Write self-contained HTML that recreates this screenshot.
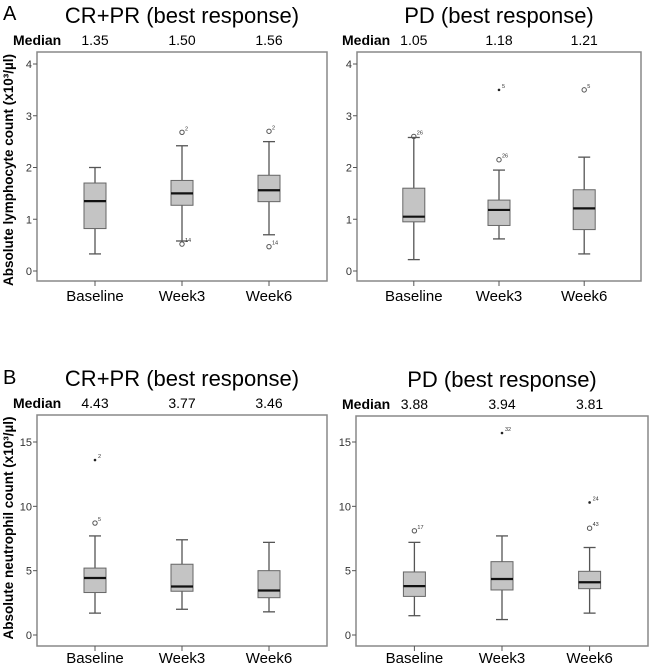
<!DOCTYPE html>
<html><head><meta charset="utf-8"><style>
body{margin:0;background:#fff;width:650px;height:665px;overflow:hidden}
svg{font-family:"Liberation Sans",sans-serif}
</style></head><body>
<svg id="c" width="650" height="665"></svg>
<script>
const categories=["Baseline","Week3","Week6"];
const medA1=["1.35","1.50","1.56"], medA2=["1.05","1.18","1.21"], medB1=["4.43","3.77","3.46"], medB2=["3.88","3.94","3.81"];
// [whiskerLow,Q1,median,Q3,whiskerHigh]
const boxA1=[[0.33,0.82,1.35,1.7,2.0],[0.58,1.27,1.5,1.75,2.42],[0.7,1.34,1.56,1.85,2.5]];
const outA1=[[],[[2.68,"2",0],[0.52,"14",0]],[[2.7,"2",0],[0.47,"14",0]]];
const boxA2=[[0.22,0.95,1.05,1.6,2.58],[0.62,0.88,1.18,1.37,1.95],[0.33,0.8,1.21,1.57,2.2]];
const outA2=[[[2.6,"26",0]],[[3.5,"5",1],[2.15,"26",0]],[[3.5,"5",0]]];
const boxB1=[[1.7,3.3,4.43,5.2,7.7],[2.0,3.4,3.77,5.5,7.4],[1.8,2.9,3.46,5.0,7.2]];
const outB1=[[[13.6,"2",1],[8.7,"5",0]],[],[]];
const boxB2=[[1.5,3.0,3.8,4.9,7.2],[1.2,3.5,4.35,5.7,7.7],[1.7,3.6,4.1,4.95,6.8]];
const outB2=[[[8.1,"17",0]],[[15.7,"32",1]],[[10.3,"24",1],[8.3,"43",0]]];
const ticksA=[0,1,2,3,4], ticksB=[0,5,10,15];
const NS="http://www.w3.org/2000/svg", svg=document.getElementById('c');
function el(t,a,txt,p){const e=document.createElementNS(NS,t);for(const k in a)e.setAttribute(k,a[k]);if(txt!==undefined)e.textContent=txt;(p||svg).appendChild(e);return e;}
function panel(name,x0,x1,top,bot,yTop,yBot,vTop,ticks,boxes,outs,meds,title,mx,labOff){
  const g=el('g',{});
  
  
  const y=v=>yBot-(v/vTop)*(yBot-yTop);
  const w=x1-x0, cx=i=>x0+w*(0.2+0.3*i);
  const t=el('text',{x:(x0+x1)/2,y:top-29,'text-anchor':'middle','font-size':22},title,g);
  
  const m=el('text',{x:mx,y:top-7,'font-size':14,'font-weight':'bold'},'Median',g);
  
  const fr=el('rect',{x:x0,y:top,width:w,height:bot-top,fill:'#fff',stroke:'#888','stroke-width':1.5},undefined,g);
  
  ticks.forEach(v=>{el('line',{x1:x0-4,x2:x0,y1:y(v),y2:y(v),stroke:'#555'},undefined,g);
    const tl=el('text',{x:x0-5,y:y(v)+4,'text-anchor':'end','font-size':11,fill:'#333'},v,g);
    });
  categories.forEach((c,i)=>{
    const X=cx(i), b=boxes[i];
    el('line',{x1:X,x2:X,y1:bot,y2:bot+5,stroke:'#555'},undefined,g);
    const cl=el('text',{x:X,y:bot+labOff,'text-anchor':'middle','font-size':15},c,g);
    
    const ml=el('text',{x:X,y:top-7,'text-anchor':'middle','font-size':14},meds[i],g);
    
    const bg=el('g',{},undefined,g);
    
    el('line',{x1:X,x2:X,y1:y(b[0]),y2:y(b[1]),stroke:'#555','stroke-width':1.3},undefined,bg);
    el('line',{x1:X,x2:X,y1:y(b[3]),y2:y(b[4]),stroke:'#555','stroke-width':1.3},undefined,bg);
    el('line',{x1:X-6,x2:X+6,y1:y(b[0]),y2:y(b[0]),stroke:'#555','stroke-width':1.3},undefined,bg);
    el('line',{x1:X-6,x2:X+6,y1:y(b[4]),y2:y(b[4]),stroke:'#555','stroke-width':1.3},undefined,bg);
    el('rect',{x:X-11,y:y(b[3]),width:22,height:y(b[1])-y(b[3]),fill:'#c4c4c4',stroke:'#666','stroke-width':1},undefined,bg);
    el('line',{x1:X-11,x2:X+11,y1:y(b[2]),y2:y(b[2]),stroke:'#111','stroke-width':2.2},undefined,bg);
    outs[i].forEach(o=>{
      if(o[2]) el('circle',{cx:X,cy:y(o[0]),r:1.3,fill:'#222'},undefined,bg);
      else el('circle',{cx:X,cy:y(o[0]),r:2.2,fill:'none',stroke:'#555'},undefined,bg);
      el('text',{x:X+3,y:y(o[0])-2,'font-size':5.5,fill:'#333'},o[1],bg);
    });
  });
}
panel('panel-a-cr-pr',37,327,52,281,64,271,4,ticksA,boxA1,outA1,medA1,'CR+PR (best response)',13,20);
panel('panel-a-pd',357,641,52,281,64,271,4,ticksA,boxA2,outA2,medA2,'PD (best response)',342,20);
panel('panel-b-cr-pr',37,327,415,646,442,635,15,ticksB,boxB1,outB1,medB1,'CR+PR (best response)',13,17);
panel('panel-b-pd',356,648,416,646,442,635,15,ticksB,boxB2,outB2,medB2,'PD (best response)',342,17);
[['A',20],['B',384]].forEach(p=>{const t=el('text',{x:3,y:p[1],'font-size':20},p[0]);
 });
const yl1=el('text',{transform:'translate(13,170) rotate(-90)','text-anchor':'middle','font-size':13.5,'font-weight':'bold'},'Absolute lymphocyte count (x10³/µl)');

const yl2=el('text',{transform:'translate(13,528) rotate(-90)','text-anchor':'middle','font-size':13.5,'font-weight':'bold'},'Absolute neutrophil count (x10³/µl)');

</script>
</body></html>
